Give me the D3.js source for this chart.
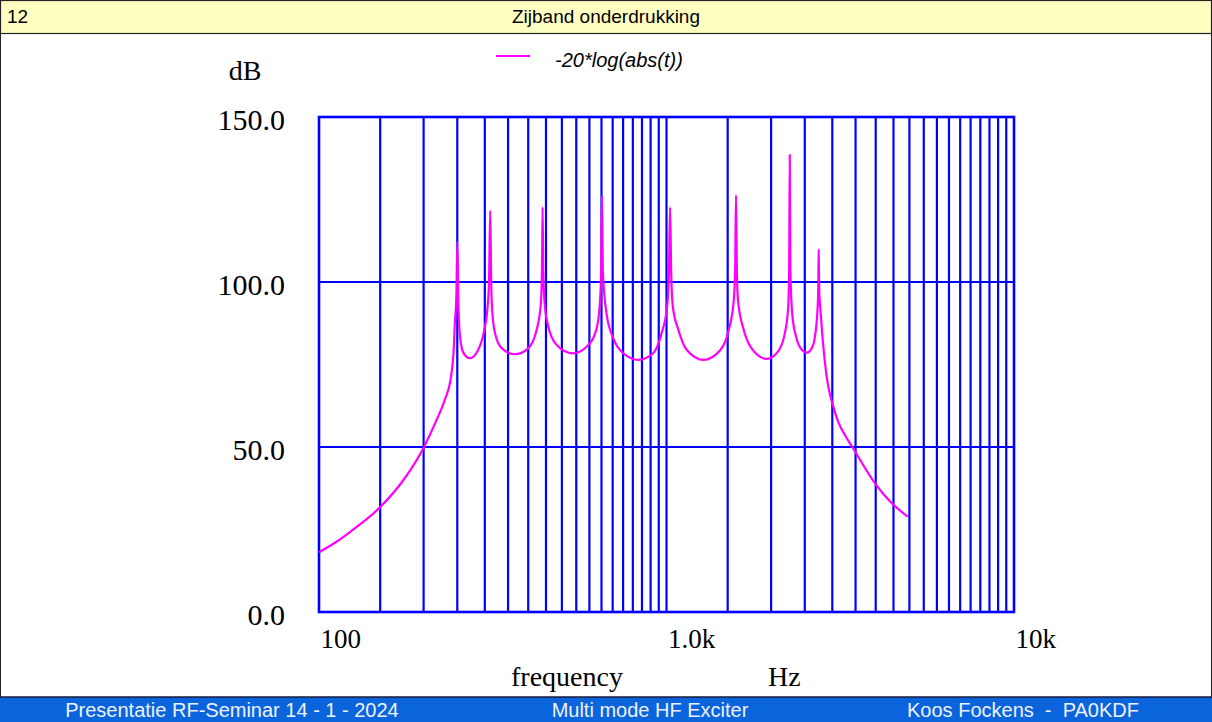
<!DOCTYPE html>
<html>
<head>
<meta charset="utf-8">
<script src="https://cdn.jsdelivr.net/npm/d3@7"></script>
<style>
  body { margin: 0; background: #fff; }
  svg { display: block; }
</style>
</head>
<body>
<script>
// curve: frequency (Hz) and level (dB)
var freq = [100, 112, 123, 150, 175, 200, 218, 230, 239, 242, 244, 246, 248.5, 250, 251.5, 253, 257, 263, 272,
  287, 299, 305, 308.5, 311, 313, 315, 321, 336, 366,
  400, 423, 435, 438, 440, 442, 446, 457, 483, 537,
  589, 628, 643, 648.5, 652, 656, 672, 703, 751, 830,
  915, 968, 1004, 1016, 1024, 1032, 1043, 1082, 1144, 1278,
  1429, 1511, 1562, 1576, 1585, 1594, 1606, 1668, 1757, 1943,
  2093, 2191, 2240, 2254, 2263, 2272, 2300, 2360, 2450, 2536,
  2620, 2664, 2723, 2735, 2741, 2750, 2778, 2845, 2900, 2960, 3000,
  3120, 3270, 3425, 3981, 4400, 4944];
var level = [18.1, 21.2, 24.3, 31.8, 40.0, 49.8, 58.2, 64.2, 70.3, 74.5, 79.0, 87.5, 96, 112.2, 96, 87.5, 80.4, 77.8, 76.9,
  79.4, 85.5, 91.5, 100, 121.6, 100, 91.5, 84.5, 79.9, 78.1,
  79.9, 85.5, 93.5, 103, 122.6, 103, 93.5, 86.5, 80.9, 78.4,
  80.4, 85.5, 93.5, 103, 126.2, 103, 90.5, 82.9, 78.4, 76.4,
  78.4, 84.5, 92.5, 102, 122.6, 102, 92.5, 85.5, 79.4, 76.4,
  79.4, 85.5, 94.5, 104, 126.3, 104, 94.5, 85.5, 79.9, 76.7,
  78.9, 84.5, 92.5, 104, 138.5, 104, 90.5, 83.4, 79.5, 78.6,
  80, 82.4, 92.5, 100, 109.9, 98, 90.5, 77.4, 70.3, 65.5, 63.3,
  57.6, 53.4, 50.0, 39.0, 33.5, 28.9];

var yTicks = [0, 50, 100, 150];
var yTickLabels = ["0.0", "50.0", "100.0", "150.0"];
var xTicks = [100, 1000, 10000];
var xTickLabels = ["100", "1.0k", "10k"];
var seriesName = "-20*log(abs(t))";

var W = 1212, H = 722;
var pLeft = 319, pRight = 1014, pTop = 117, pBottom = 612;

var svg = d3.select('body').append('svg')
    .attr('width', W)
    .attr('height', H);

var sans = '"Liberation Sans", Arial, Helvetica, sans-serif';
var serif = '"Liberation Serif", "Times New Roman", serif';

// header and footer bands
svg.append('rect').attr('x', 0.5).attr('y', 0.5).attr('width', W - 1).attr('height', H - 1)
    .attr('fill', '#fff').attr('stroke', '#222').attr('stroke-width', 1);
svg.append('rect').attr('x', 0.5).attr('y', 0.5).attr('width', W - 1).attr('height', 33)
    .attr('fill', '#ffffc2').attr('stroke', '#222').attr('stroke-width', 1.2);
svg.append('text').attr('x', 7).attr('y', 23).text('12')
    .style('font-family', sans).style('font-size', '19px');
svg.append('text').attr('x', 606).attr('y', 23).attr('text-anchor', 'middle').text('Zijband onderdrukking')
    .style('font-family', sans).style('font-size', '19px');

svg.append('rect').attr('x', 0).attr('y', 697).attr('width', W).attr('height', 25)
    .attr('fill', '#0a64dc');
svg.append('line').attr('x1', 0).attr('x2', W).attr('y1', 697).attr('y2', 697)
    .attr('stroke', '#1a1a3a').attr('stroke-width', 1.5);
var foot = [["Presentatie RF-Seminar 14 - 1 - 2024", 232], ["Multi mode HF Exciter", 650], ["Koos Fockens  -  PA0KDF", 1023]];
svg.selectAll('.foot').data(foot).enter().append('text')
    .attr('class', 'foot')
    .attr('x', d => d[1]).attr('y', 717)
    .attr('text-anchor', 'middle')
    .attr('fill', '#eef2ff')
    .style('white-space', 'pre')
    .style('font-family', sans).style('font-size', '20px')
    .text(d => d[0]);

// scales
var xScale = d3.scaleLog().domain([100, 10000]).range([pLeft, pRight]);
var yScale = d3.scaleLinear().domain([0, 150]).range([pBottom, pTop]);

var gridF = d3.range(150, 1001, 50).concat(d3.range(1500, 9501, 500));

var g = svg.append('g');
g.selectAll('.vgrid').data(gridF).enter().append('line')
    .attr('class', 'vgrid')
    .attr('x1', d => xScale(d)).attr('x2', d => xScale(d))
    .attr('y1', pTop).attr('y2', pBottom)
    .attr('stroke', '#0000ff').attr('stroke-width', 2.2);
g.selectAll('.hgrid').data([50, 100]).enter().append('line')
    .attr('class', 'hgrid')
    .attr('x1', pLeft).attr('x2', pRight)
    .attr('y1', d => yScale(d)).attr('y2', d => yScale(d))
    .attr('stroke', '#0000ff').attr('stroke-width', 2.2);
g.append('rect')
    .attr('x', pLeft).attr('y', pTop)
    .attr('width', pRight - pLeft).attr('height', pBottom - pTop)
    .attr('fill', 'none').attr('stroke', '#0000ff').attr('stroke-width', 2.6);

// axes (labels only)
var yAxis = d3.axisLeft(yScale).tickValues(yTicks).tickSize(0)
    .tickFormat((d, i) => yTickLabels[i]);
var ya = svg.append('g').attr('transform', 'translate(' + 285 + ',0)').call(yAxis);
ya.select('.domain').remove();
ya.selectAll('text')
    .attr('x', 0).attr('dy', '0.42em')
    .style('font-family', serif).style('font-size', '30px').attr('fill', '#000');

var xAxis = d3.axisBottom(xScale).tickValues(xTicks).tickSize(0)
    .tickFormat((d, i) => xTickLabels[i]);
var xa = svg.append('g').attr('transform', 'translate(0,' + 624 + ')').call(xAxis);
xa.select('.domain').remove();
xa.selectAll('text')
    .attr('text-anchor', 'start').attr('dx', 1).attr('y', 0).attr('dy', '0.9em')
    .style('font-family', serif).style('font-size', '27px').attr('fill', '#000');

svg.append('text').attr('x', 245).attr('y', 80).attr('text-anchor', 'middle').text('dB')
    .style('font-family', serif).style('font-size', '28px');
svg.append('text').attr('x', 511).attr('y', 686).text('frequency')
    .style('font-family', serif).style('font-size', '28px');
svg.append('text').attr('x', 768).attr('y', 686).text('Hz')
    .style('font-family', serif).style('font-size', '28px');

// legend
svg.append('line').attr('x1', 496).attr('x2', 530).attr('y1', 56).attr('y2', 56)
    .attr('stroke', '#ff00ff').attr('stroke-width', 2.2);
svg.append('text').attr('x', 555).attr('y', 67).text(seriesName)
    .style('font-family', sans).style('font-size', '20px').style('font-style', 'italic');

// curve
var pts = freq.map((f, i) => [f, level[i]]);
var line = d3.line()
    .x(d => xScale(d[0]))
    .y(d => yScale(d[1]))
    .curve(d3.curveMonotoneX);
svg.append('path').datum(pts)
    .attr('d', line)
    .attr('fill', 'none')
    .attr('stroke', '#ff00ff')
    .attr('stroke-width', 2.2)
    .attr('stroke-linejoin', 'round');
</script>
</body>
</html>
